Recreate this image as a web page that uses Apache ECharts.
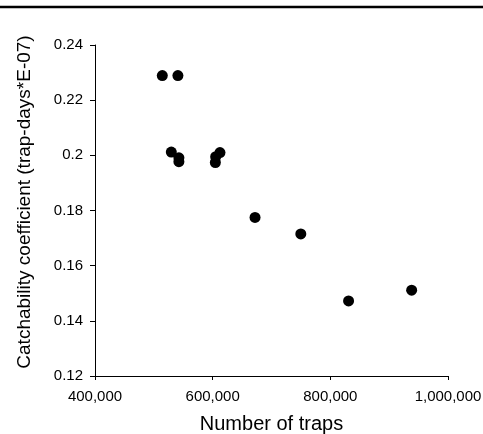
<!DOCTYPE html>
<html>
<head>
<meta charset="utf-8">
<script src="https://cdn.jsdelivr.net/npm/echarts@6/dist/echarts.min.js"></script>
<style>
  html, body { margin: 0; padding: 0; background: #fff; }
  #chart { width: 483px; height: 434px; }
</style>
</head>
<body>
<div id="chart"></div>
<script>
// Number of traps set per season
var traps = [514400, 540900, 529700, 542600, 542600, 605100, 612400, 604600, 672000, 749800, 831000, 938200];
// Catchability coefficient (trap-days * 1E-07)
var catchability = [0.2289, 0.2289, 0.2012, 0.1991, 0.1977, 0.1995, 0.2010, 0.1974, 0.1775, 0.1715, 0.1472, 0.1511];

// Axis ranges and tick steps
var xTicks = { min: 400000, max: 1000000, step: 200000 };
var yTicks = { min: 0.12, max: 0.24, step: 0.02 };

var points = traps.map(function (t, i) { return [t, catchability[i]]; });

var font = 'Liberation Sans, Arial, Helvetica, sans-serif';

var chart = echarts.init(document.getElementById('chart'), null, { renderer: 'canvas' });
chart.setOption({
  animation: false,
  backgroundColor: '#ffffff',
  grid: { left: 95, right: 35, top: 45, bottom: 58, containLabel: false, outerBoundsMode: 'none' },
  graphic: [{
    type: 'line',
    shape: { x1: 0, y1: 7, x2: 483, y2: 7 },
    style: { stroke: '#000', lineWidth: 2.5 }
  }],
  xAxis: {
    type: 'value',
    min: xTicks.min,
    max: xTicks.max,
    interval: xTicks.step,
    name: 'Number of traps',
    nameLocation: 'middle',
    nameGap: 38,
    nameTextStyle: { color: '#000', fontSize: 20, fontFamily: font },
    axisLine: { show: true, lineStyle: { color: '#000', width: 1 } },
    axisTick: { show: true, inside: false, length: 4, lineStyle: { color: '#000' } },
    axisLabel: {
      color: '#000', fontSize: 15, fontFamily: font, margin: 13,
      formatter: function (v) { return v.toLocaleString('en-US'); }
    },
    splitLine: { show: false }
  },
  yAxis: {
    type: 'value',
    min: yTicks.min,
    max: yTicks.max,
    interval: yTicks.step,
    name: 'Catchability coefficient (trap-days*E-07)',
    nameLocation: 'middle',
    nameGap: 61,
    nameTextStyle: { color: '#000', fontSize: 19, fontFamily: font, padding: [0, 0, 0, 17] },
    axisLine: { show: true, lineStyle: { color: '#000', width: 1 } },
    axisTick: { show: true, inside: false, length: 5, lineStyle: { color: '#000' } },
    axisLabel: {
      color: '#000', fontSize: 15, fontFamily: font, margin: 12,
      formatter: function (v) { return String(+v.toFixed(2)); }
    },
    splitLine: { show: false }
  },
  series: [{
    type: 'scatter',
    data: points,
    symbol: 'circle',
    symbolSize: 11,
    itemStyle: { color: '#000', opacity: 1 }
  }]
});
</script>
</body>
</html>
